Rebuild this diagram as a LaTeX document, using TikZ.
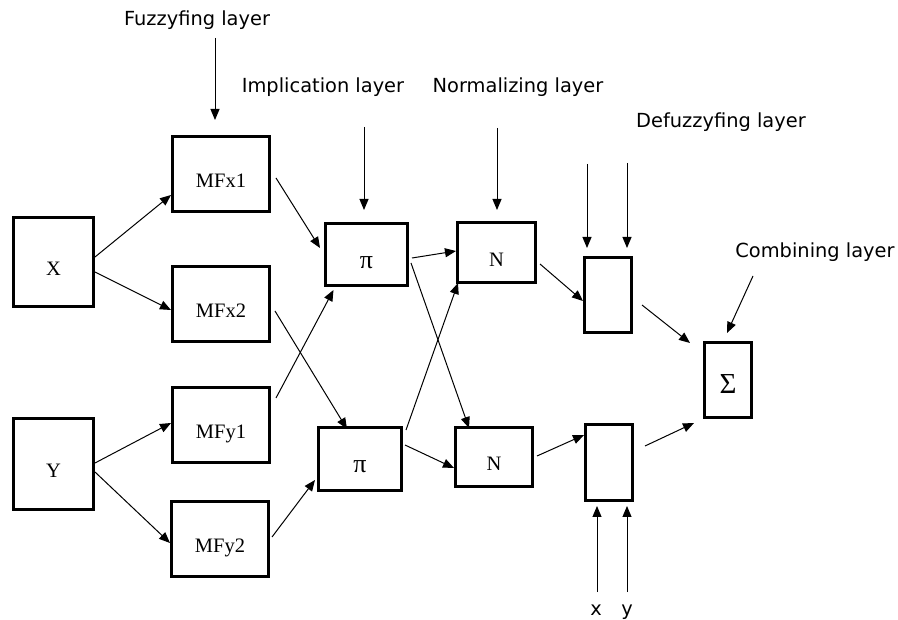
\documentclass[tikz,border=0pt]{standalone}
\usepackage{fontspec}
\setmainfont{Liberation Serif}
\newfontfamily\layerfont{DejaVu Sans}
\usetikzlibrary{arrows.meta}

\begin{document}
\begin{tikzpicture}[x=1pt, y=-1pt,
    box/.style={draw, line width=3pt, inner sep=0pt, text height=28pt, text depth=0pt,
                font=\fontsize{20.5}{22}\selectfont},
    arr/.style={-{Triangle[length=11pt,width=9pt]}, line width=1pt},
    layer/.style={anchor=base, inner sep=0pt, font=\layerfont\fontsize{19.4}{22}\selectfont}]
    \useasboundingbox (0,0) rectangle (898,620);

    \node[box, minimum width=80pt, minimum height=89pt] (X) at (53.5,262) {X};
    \node[box, minimum width=80pt, minimum height=91pt] (Y) at (53.5,464) {Y};

    \node[box, minimum width=97pt, minimum height=75pt] (MFx1) at (221,174) {MFx1};
    \node[box, minimum width=97pt, minimum height=75pt] (MFx2) at (221,304) {MFx2};
    \node[box, minimum width=97pt, minimum height=75pt] (MFy1) at (221,425) {MFy1};
    \node[box, minimum width=97pt, minimum height=75pt] (MFy2) at (220,539) {MFy2};

    \node[box, minimum width=82pt, minimum height=62pt, font=\fontsize{26}{28}\selectfont] (PiA) at (366.5,254.5) {π};
    \node[box, minimum width=83pt, minimum height=63pt, font=\fontsize{26}{28}\selectfont] (PiB) at (360,459) {π};

    \node[box, minimum width=78pt, minimum height=60pt] (NA) at (496.5,252.5) {N};
    \node[box, minimum width=77pt, minimum height=59pt] (NB) at (494,457) {N};

    \node[box, minimum width=47pt, minimum height=75pt] (DA) at (608,295) {};
    \node[box, minimum width=47pt, minimum height=76pt] (DB) at (609,462.5) {};

    \node[box, minimum width=47pt, minimum height=75pt, font=\fontsize{29}{30}\selectfont] (Sum) at (728,380) {Σ};

    \node[layer] (lblFuzz) at (197,26) {Fuzzyfing layer};
    \node[layer] (lblImpl) at (323,93) {Implication layer};
    \node[layer] (lblNorm) at (518,93) {Normalizing layer};
    \node[layer] (lblDefuzz) at (721,128) {Defuzzyfing layer};
    \node[layer] (lblComb) at (815,258) {Combining layer};
    \node[layer] (lblx) at (596,615) {x};
    \node[layer] (lbly) at (627,615) {y};

    \coordinate (fzTail) at (215,38);
    \coordinate (imTail) at (364,127);
    \coordinate (nmTail) at (497,128);
    \coordinate (dfTailA) at (587,164);
    \coordinate (dfTailB) at (627,163);
    \coordinate (cbTail) at (753,276);
    \coordinate (xTail) at (597,592);
    \coordinate (yTail) at (627,592);

    \draw[arr] (fzTail) -- ([xshift=-6pt,yshift=15pt]MFx1.north);
    \draw[arr] (imTail) -- ([xshift=-2.5pt,yshift=12pt]PiA.north);
    \draw[arr] (nmTail) -- ([xshift=0.5pt,yshift=11pt]NA.north);
    \draw[arr] (dfTailA) -- ([xshift=-21pt,yshift=8pt]DA.north);
    \draw[arr] (dfTailB) -- ([xshift=19pt,yshift=8pt]DA.north);
    \draw[arr] (cbTail) -- ([xshift=-1pt,yshift=8pt]Sum.north);
    \draw[arr] (xTail) -- ([xshift=-12pt,yshift=-4pt]DB.south);
    \draw[arr] (yTail) -- ([xshift=18pt,yshift=-4pt]DB.south);

    \draw[arr] ([yshift=5pt]X.east) -- ([yshift=-21pt]MFx1.west);
    \draw[arr] ([yshift=-10pt]X.east) -- ([yshift=-6pt]MFx2.west);
    \draw[arr] ([yshift=1pt]Y.east) -- ([yshift=2pt]MFy1.west);
    \draw[arr] ([yshift=-8pt]Y.east) -- ([yshift=-4pt]MFy2.west);

    \draw[arr] ([xshift=5pt,yshift=-4pt]MFx1.east) -- ([xshift=-4pt,yshift=6.5pt]PiA.west);
    \draw[arr] ([xshift=4pt,yshift=-7pt]MFx2.east) -- ([xshift=-13pt,yshift=-3pt]PiB.north);
    \draw[arr] ([xshift=5pt,yshift=27pt]MFy1.east) -- ([xshift=-33pt,yshift=-3pt]PiA.south);
    \draw[arr] ([xshift=2pt,yshift=2pt]MFy2.east) -- ([xshift=-2pt,yshift=-21pt]PiB.west);

    \draw[arr] ([xshift=3pt,yshift=-3.5pt]PiA.east) -- ([yshift=1.5pt]NA.west);
    \draw[arr] ([xshift=2pt,yshift=-8.5pt]PiA.east) -- ([xshift=-25pt,yshift=-2pt]NB.north);
    \draw[arr] ([xshift=3pt,yshift=29pt]PiB.east) -- ([xshift=-38.5pt,yshift=1pt]NA.south);
    \draw[arr] ([xshift=2pt,yshift=14pt]PiB.east) -- ([yshift=-11pt]NB.west);

    \draw[arr] ([xshift=3pt,yshift=-11.5pt]NA.east) -- ([yshift=-6pt]DA.west);
    \draw[arr] ([xshift=3pt,yshift=1pt]NB.east) -- ([yshift=27.5pt]DB.west);

    \draw[arr] ([xshift=9pt,yshift=-10pt]DA.east) -- ([xshift=-13pt,yshift=-2pt]Sum.north west);
    \draw[arr] ([xshift=11pt,yshift=16.5pt]DB.east) -- ([xshift=-9pt,yshift=-4pt]Sum.south west);
  \end{tikzpicture}
\end{document}
